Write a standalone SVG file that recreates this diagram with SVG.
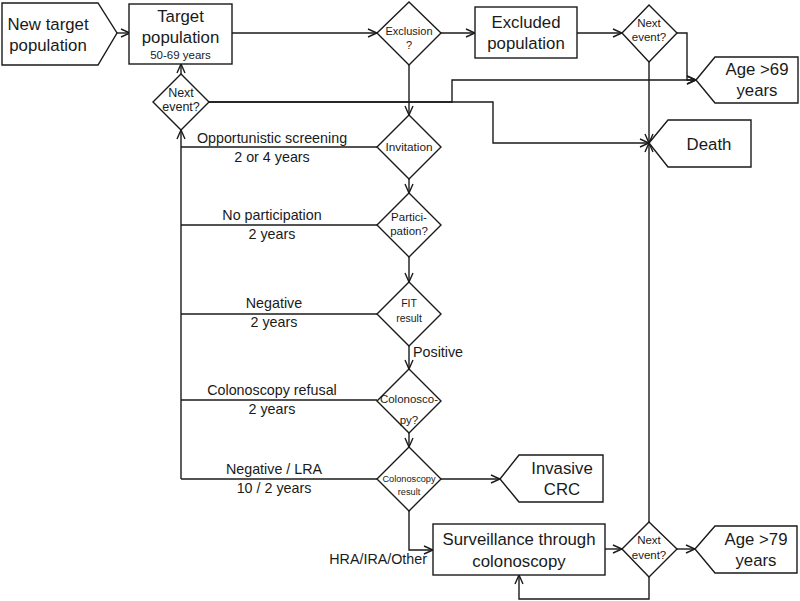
<svg xmlns="http://www.w3.org/2000/svg" width="800" height="601" viewBox="0 0 800 601">
<defs>
<marker id="arr" viewBox="0 0 10 10" refX="10" refY="5" markerWidth="10" markerHeight="10" markerUnits="userSpaceOnUse" orient="auto">
<path d="M1,1 L10,5 L1,9" fill="none" stroke="#1a1a1a" stroke-width="1.4"/>
</marker>
</defs>
<style>
.s{fill:#fff;stroke:#1a1a1a;stroke-width:1.4}
.c{fill:none;stroke:#1a1a1a;stroke-width:1.4}
.a{marker-end:url(#arr)}
text{font-family:"Liberation Sans",Arial,sans-serif;fill:#1a1a1a;text-anchor:middle}
.b{font-size:16.8px}
.m{font-size:14.3px}
.sm{font-size:11.5px}
</style>
<rect width="800" height="601" fill="#fff"/>
<g id="connectors">
<path class="c a" d="M117,33 H130"/>
<path class="c a" d="M232,33 H377"/>
<path class="c a" d="M441,33 H475"/>
<path class="c a" d="M577,33 H622"/>
<path class="c a" d="M677,33 H687 V80 H696"/>
<path class="c a" d="M649,62 V143"/>
<path class="c a" d="M209,102 H452 V80 H696"/>
<path class="c a" d="M209,102 H493 V143 H649"/>
<path class="c a" d="M181,74 V64"/>
<path class="c a" d="M409,65 V115"/>
<path class="c a" d="M181,479 V130"/>
<path class="c" d="M377,147 H181"/>
<path class="c" d="M377,225 H181"/>
<path class="c" d="M377,314 H181"/>
<path class="c" d="M377,400 H181"/>
<path class="c" d="M377,479 H181"/>
<path class="c a" d="M409,179 V193"/>
<path class="c a" d="M409,257 V282"/>
<path class="c a" d="M409,346 V369"/>
<path class="c a" d="M409,433 V447"/>
<path class="c a" d="M441,479 H500"/>
<path class="c a" d="M409,511 V550 H433"/>
<path class="c a" d="M605,549 H622"/>
<path class="c a" d="M677,549 H695"/>
<path class="c a" d="M649,577 V599 H519 V575"/>
<path class="c a" d="M649,522 V143"/>
<text class="m" x="272" y="143">Opportunistic screening</text>
<text class="m" x="272" y="162">2 or 4 years</text>
<text class="m" x="272" y="220">No participation</text>
<text class="m" x="272" y="239">2 years</text>
<text class="m" x="274" y="308">Negative</text>
<text class="m" x="274" y="327">2 years</text>
<text class="m" x="413" y="357" style="text-anchor:start">Positive</text>
<text class="m" x="272" y="395">Colonoscopy refusal</text>
<text class="m" x="272" y="414">2 years</text>
<text class="m" x="274" y="474">Negative / LRA</text>
<text class="m" x="274" y="493">10 / 2 years</text>
<text class="m" x="427" y="564" style="text-anchor:end">HRA/IRA/Other</text>
</g>
<g id="new-target">
<polygon class="s" points="2,3 98,3 117,33 98,65 2,65"/>
<text class="b" x="48" y="30">New target</text>
<text class="b" x="48" y="51">population</text>
</g>
<g id="target">
<rect class="s" x="129" y="4" width="103" height="60"/>
<text class="b" x="180.5" y="22">Target</text>
<text class="b" x="180.5" y="43">population</text>
<text style="font-size:11.5px" x="180.5" y="59">50-69 years</text>
</g>
<g id="next-left">
<polygon class="s" points="181,74 209,102 181,130 153,102"/>
<text style="font-size:12.5px" x="181" y="97">Next</text>
<text style="font-size:12.5px" x="181" y="111">event?</text>
</g>
<g id="exclusion">
<polygon class="s" points="409,2 441,33 409,65 377,33"/>
<text style="font-size:11px" x="409" y="35">Exclusion</text>
<text style="font-size:11px" x="409" y="49">?</text>
</g>
<g id="excluded">
<rect class="s" x="475" y="7" width="102" height="51"/>
<text class="b" x="526" y="28">Excluded</text>
<text class="b" x="526" y="49">population</text>
</g>
<g id="next-top">
<polygon class="s" points="649,5 677,33 649,62 622,33"/>
<text style="font-size:11.5px" x="649" y="27">Next</text>
<text style="font-size:11.5px" x="649" y="41">event?</text>
</g>
<g id="age69">
<polygon class="s" points="696,80 715,57 798,57 798,103 715,103"/>
<text class="b" x="757" y="75">Age &gt;69</text>
<text class="b" x="757" y="96">years</text>
</g>
<g id="death">
<polygon class="s" points="649,143 668,120 751,120 751,167 668,167"/>
<text class="b" x="709" y="150">Death</text>
</g>
<g id="invitation">
<polygon class="s" points="409,115 441,147 409,179 377,147"/>
<text style="font-size:11.8px" x="409" y="151">Invitation</text>
</g>
<g id="participation">
<polygon class="s" points="409,193 441,225 409,257 377,225"/>
<text class="sm" x="409" y="221">Partici-</text>
<text class="sm" x="409" y="235">pation?</text>
</g>
<g id="fit">
<polygon class="s" points="409,282 441,314 409,346 377,314"/>
<text style="font-size:10.5px" x="409" y="307">FIT</text>
<text style="font-size:10.5px" x="409" y="322">result</text>
</g>
<g id="colonoscopy-q">
<polygon class="s" points="409,369 441,401 409,433 377,401"/>
<text class="sm" x="409" y="403">Colonosco-</text>
<text class="sm" x="409" y="424">py?</text>
</g>
<g id="colonoscopy-result">
<polygon class="s" points="409,447 441,479 409,511 377,479"/>
<text style="font-size:9.2px" x="409" y="482">Colonoscopy</text>
<text style="font-size:9.2px" x="409" y="495">result</text>
</g>
<g id="invasive">
<polygon class="s" points="500,479 519,455 603,455 603,502 519,502"/>
<text class="b" x="562" y="474">Invasive</text>
<text class="b" x="562" y="495">CRC</text>
</g>
<g id="surveillance">
<rect class="s" x="433" y="524" width="172" height="51"/>
<text class="b" x="519" y="545">Surveillance through</text>
<text class="b" x="519" y="567">colonoscopy</text>
</g>
<g id="next-bottom">
<polygon class="s" points="649,522 677,549 649,577 622,549"/>
<text style="font-size:11.5px" x="649" y="544">Next</text>
<text style="font-size:11.5px" x="649" y="559">event?</text>
</g>
<g id="age79">
<polygon class="s" points="695,549 715,526 797,526 797,573 715,573"/>
<text class="b" x="756" y="545">Age &gt;79</text>
<text class="b" x="756" y="566">years</text>
</g>
</svg>
